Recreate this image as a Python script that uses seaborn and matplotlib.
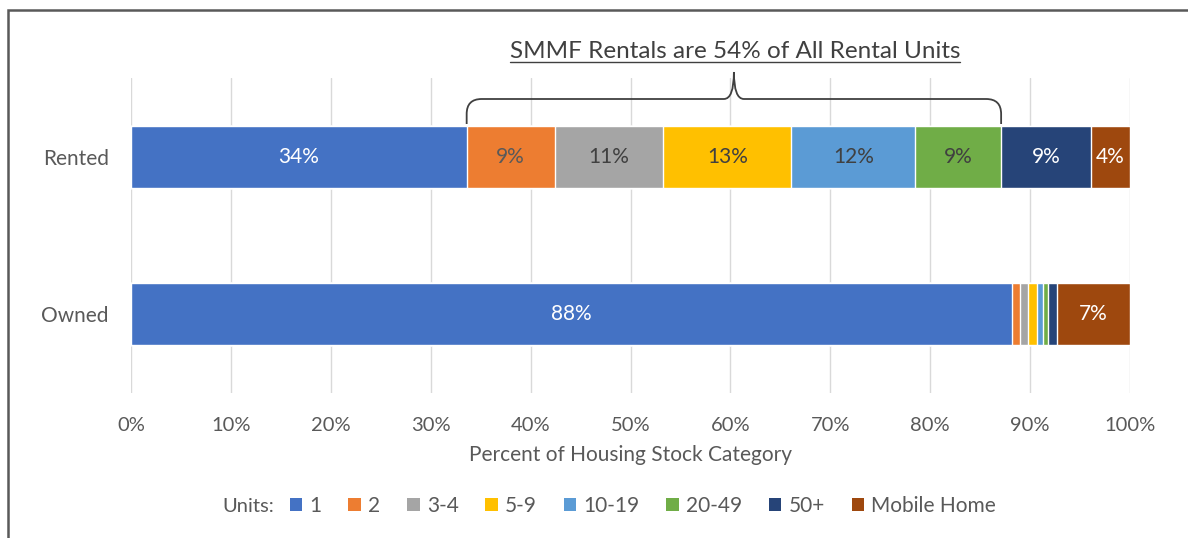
import numpy as np
import pandas as pd
import matplotlib
matplotlib.use("Agg")
import matplotlib.pyplot as plt
import seaborn as sns
from matplotlib.path import Path
from matplotlib.patches import PathPatch, Rectangle, Patch
from matplotlib.lines import Line2D
import matplotlib.transforms as mtransforms

# ---------------- data ----------------
categories = ["Rented", "Owned"]
unit_types = ["1", "2", "3-4", "5-9", "10-19", "20-49", "50+", "Mobile Home"]
rented = [33.6, 8.8, 10.9, 12.8, 12.4, 8.6, 9.0, 3.9]
owned = [88.2, 0.8, 0.8, 0.9, 0.6, 0.5, 0.9, 7.3]
rented_labels = ["34%", "9%", "11%", "13%", "12%", "9%", "9%", "4%"]
owned_labels = ["88%", "", "", "", "", "", "", "7%"]
xticks = [0, 10, 20, 30, 40, 50, 60, 70, 80, 90, 100]
xtick_labels = ["0%", "10%", "20%", "30%", "40%", "50%", "60%", "70%", "80%", "90%", "100%"]
title_text = "SMMF Rentals are 54% of All Rental Units"
xlabel_text = "Percent of Housing Stock Category"
legend_title = "Units:"

colors = ["#4472C4", "#ED7D31", "#A5A5A5", "#FFC000", "#5B9BD5", "#70AD47", "#264478", "#9E480E"]
label_colors = ["#FFFFFF", "#595959", "#404040", "#404040", "#404040", "#404040", "#FFFFFF", "#FFFFFF"]

# ---------------- style ----------------
sns.set_theme(style="white")
plt.rcParams["font.family"] = ["Lato", "DejaVu Sans"]
TXT = "#595959"
FS = 14.5

W, H = 1188, 538
fig = plt.figure(figsize=(W / 100, H / 100), dpi=100)
fig.patch.set_facecolor("white")
ax = fig.add_axes([131 / W, 1 - 393 / H, 999 / W, 315 / H])

df = pd.DataFrame({"Category": categories})
cum = np.cumsum(np.array([rented, owned]), axis=1)
for i in reversed(range(len(unit_types))):
    df["end"] = cum[:, i]
    sns.barplot(data=df, x="end", y="Category", color=colors[i], saturation=1,
                width=0.394, orient="h", ax=ax, zorder=2)

# labels
for row, labels in enumerate([rented_labels, owned_labels]):
    vals = [rented, owned][row]
    for i, lbl in enumerate(labels):
        if lbl:
            start = cum[row, i] - vals[i]
            ax.text(start + vals[i] / 2, row, lbl, ha="center", va="center",
                    color=label_colors[i], fontsize=15, zorder=3)

ax.set_xlim(0, 100)
ax.set_ylim(1.5, -0.5)
ax.set_xticks(xticks)
ax.set_xticklabels(xtick_labels, color=TXT, fontsize=FS)
ax.tick_params(axis="x", length=0, pad=17)
ax.tick_params(axis="y", length=0, pad=16, labelsize=FS + 0.5, labelcolor=TXT)
ax.set_ylabel("")
ax.set_xlabel(xlabel_text, color=TXT, fontsize=FS + 0.5, labelpad=8)
ax.grid(axis="x", color="#D9D9D9", linewidth=1, zorder=0)
ax.grid(axis="y", visible=False)
ax.set_axisbelow(True)
for s in ax.spines.values():
    s.set_visible(False)

# bracket (x in data, y in figure pixels)
trans = mtransforms.blended_transform_factory(ax.transData, fig.transFigure)
def fy(px):
    return 1 - px / H
x0, x1 = cum[0, 0], cum[0, 5]
xc = (x0 + x1) / 2
r = 1.5
yb, yh, yt = 124, 99, 72
verts = [
    (x0, fy(yb)), (x0, fy(yh + 15)), (x0, fy(yh)), (x0 + r, fy(yh)),
    (xc - 1.0, fy(yh)), (xc, fy(yh)), (xc, fy(yt)),
    (xc, fy(yh)), (xc + 1.0, fy(yh)),
    (x1 - r, fy(yh)), (x1, fy(yh)), (x1, fy(yh + 15)), (x1, fy(yb)),
]
codes = [Path.MOVETO, Path.LINETO, Path.CURVE3, Path.CURVE3,
         Path.LINETO, Path.CURVE3, Path.CURVE3,
         Path.CURVE3, Path.CURVE3,
         Path.LINETO, Path.CURVE3, Path.CURVE3, Path.LINETO]
bracket = PathPatch(Path(verts, codes), transform=trans, fill=False,
                    edgecolor="#404040", linewidth=1.3, clip_on=False)
fig.add_artist(bracket)

# title with underline
t = fig.text(735 / W, fy(51), title_text, ha="center", va="center",
             fontsize=17.5, color="#404040")

# legend
handles = [Patch(facecolor=c, edgecolor="none") for c in colors]
fig.legend(handles, unit_types, loc="center", bbox_to_anchor=(643 / W, fy(506)),
           ncol=8, frameon=False, fontsize=FS + 0.5, handlelength=0.6, handleheight=0.6,
           handletextpad=0.35, columnspacing=1.28, labelcolor=TXT)
fig.text(274 / W, fy(506), legend_title, ha="right", va="center", fontsize=FS, color=TXT)

# outer border
fig.add_artist(Rectangle((8 / W, -0.2), 1.2, 1.2 - 10 / H, transform=fig.transFigure,
                         fill=False, edgecolor="#595959", linewidth=1.8))

fig.canvas.draw()
bb = t.get_window_extent(fig.canvas.get_renderer())
uy = bb.y0 + 0
fig.add_artist(Line2D([bb.x0 / W, bb.x1 / W], [uy / H, uy / H], transform=fig.transFigure,
                      color="#404040", linewidth=1.0))

fig.savefig("out.png", dpi=100)
